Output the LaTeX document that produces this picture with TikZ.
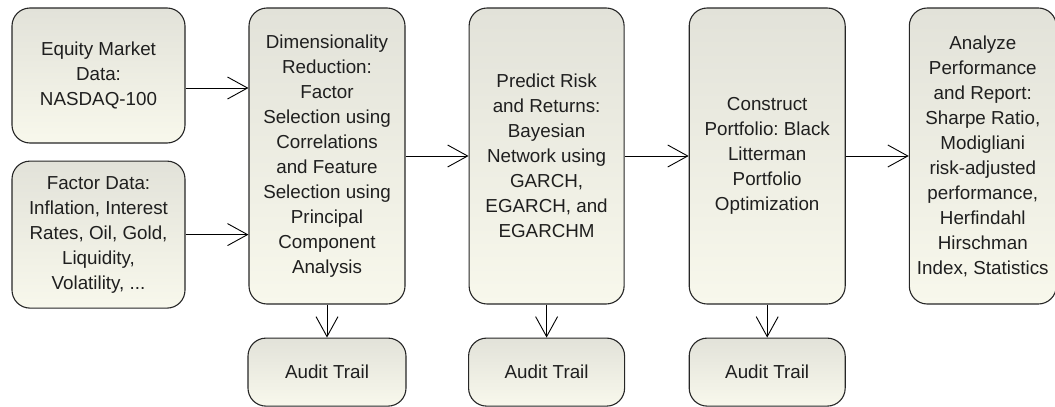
\documentclass[tikz,border=0pt]{standalone}
\usepackage{fontspec}
\setmainfont{Liberation Sans}
\frenchspacing
\usetikzlibrary{arrows.meta, positioning}
\definecolor{boxtop}{RGB}{226,226,217}
\definecolor{boxbot}{RGB}{248,248,236}
\tikzstyle{arrow} = [line width=0.9pt, -{Straight Barb[length=20pt,width=22pt]}]
\tikzstyle{block} = [rectangle, draw=black!85, line width=1.1pt, rounded corners=18pt, top color=boxtop, bottom color=boxbot, text=black!88, inner sep=2pt, font=\fontsize{18.8}{25}\selectfont]
\tikzset{every node/.style={align=center}}

\begin{document}
\begin{tikzpicture}[x=1pt, y=1pt]
    \useasboundingbox (0,0) rectangle (1055,-407);

    \node (dim) [block, minimum width=156pt, minimum height=296pt] at (327,-156) {Dimensionality\\Reduction:\\Factor\\Selection using\\Correlations\\and Feature\\Selection using\\Principal\\Component\\Analysis};
    \node (pred) [block, minimum width=155pt, minimum height=296pt, right=63pt of dim] {Predict Risk\\and Returns:\\Bayesian\\Network using\\GARCH,\\EGARCH, and\\EGARCHM};
    \node (cons) [block, minimum width=156pt, minimum height=296pt, right=64pt of pred] {Construct\\Portfolio: Black\\Litterman\\Portfolio\\Optimization};
    \node (anl) [block, minimum width=147pt, minimum height=296pt, right=63pt of cons] {Analyze\\Performance\\and Report:\\Sharpe Ratio,\\Modigliani\\risk-adjusted\\performance,\\Herfindahl\\Hirschman\\Index, Statistics};

    \node (eq) [block, minimum width=173pt, minimum height=135pt] at (98.5,-75.5) {Equity Market\\Data:\\NASDAQ-100};
    \node (fac) [block, minimum width=173pt, minimum height=147pt, below=17pt of eq] {Factor Data:\\Inflation, Interest\\Rates, Oil, Gold,\\Liquidity,\\Volatility, ...};

    \node (aud1) [block, minimum width=158pt, minimum height=68pt, below=33pt of dim] {Audit Trail};
    \node (aud2) [block, minimum width=156pt, minimum height=68pt, below=33pt of pred] {Audit Trail};
    \node (aud3) [block, minimum width=156pt, minimum height=68pt, below=33pt of cons] {Audit Trail};

    \coordinate (eqout) at ([yshift=-12.5pt]eq.east);
    \draw [arrow] (eqout) -- (eqout -| dim.west);
    \draw [arrow] (fac.east) -- (fac.east -| dim.west);
    \draw [arrow] (dim) -- (pred);
    \draw [arrow] (pred) -- (cons);
    \draw [arrow] (cons) -- (anl);
    \draw [arrow] (dim) -- (aud1);
    \draw [arrow] (pred) -- (aud2);
    \draw [arrow] (cons) -- (aud3);
\end{tikzpicture}
\end{document}
